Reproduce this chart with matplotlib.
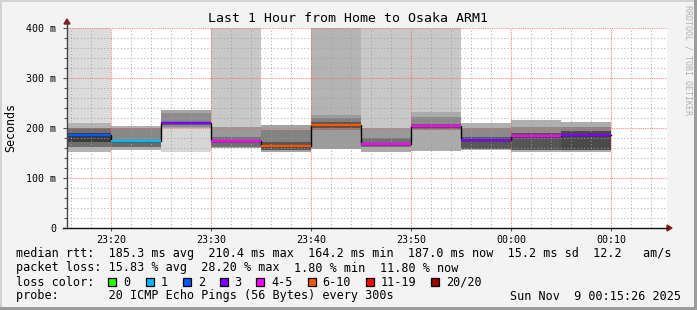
import matplotlib
matplotlib.use("Agg")
import matplotlib.pyplot as plt
from matplotlib.patches import Rectangle, Polygon
from matplotlib.lines import Line2D

# ---------------- data (minutes after 23:00, values in ms) ----------------
bar_start = [15, 20, 25, 30, 35, 40, 45, 50, 55, 60, 65]
median_ms = [186.5, 173.5, 209.5, 174.0, 164.2, 207.0, 167.5, 203.5, 176.0, 183.5, 187.0]
loss_class = ['2', '1', '3', '4-5', '6-10', '6-10', '4-5', '4-5', '3', '4-5', '3']

# loss background (top of smoke up to axis top)
loss_bg_lo = [211, None, None, 203, None, 226, 201, 233, None, None, None]
loss_bg_gray = ['#dcdcdc', None, None, '#c8c8c8', None, '#b4b4b4', '#c8c8c8', '#c8c8c8', None, None, None]

# smoke layers
outer_lo = [153, 156, 153, 161, 153, 159, 153, 155, 156, 153, 153]
outer_hi = [211, 205, 200, 203, 206, 226, 201, 233, 211, 216, 212]
outer_gray = ['#b4b4b4', '#b0b0b0', '#d6d6d6', '#a8a8a8', '#a4a4a4', '#9c9c9c', '#ababab', '#ababab', '#b0b0b0', '#b0b0b0', '#acacac']
upper_lo = [None, None, 200, None, None, None, None, None, None, None, None]
upper_hi = [None, None, 236, None, None, None, None, None, None, None, None]
mid_lo = [163, 163, 203, 183, 156, 196, 163, 196, 159, 156, 156]
mid_hi = [200, 200, 230, 203, 196, 220, 201, 222, 200, 202, 202]
mid_gray = ['#6e6e6e', '#888888', '#8c8c8c', '#999999', '#828282', '#808080', '#999999', '#8a8a8a', '#8a8a8a', '#8c8c8c', '#858585']
core_lo = [173, 163, 206, 163, 156, 200, 163, 198, 159, 156, 156]
core_hi = [190, 176, 214, 183, 172, 212, 180, 208, 182, 190, 194]
core_gray = ['#3c3c3c', '#6a6a6a', '#7a7a7a', '#707070', '#555555', '#555555', '#707070', '#606060', '#585858', '#555555', '#4a4a4a']

loss_colors = {'0': '#26ff00', '1': '#00b8ff', '2': '#0059ff', '3': '#7e00ff',
               '4-5': '#ff00ff', '6-10': '#ff5500', '11-19': '#ff0000', '20/20': '#a10000'}
legend_labels = ['0', '1', '2', '3', '4-5', '6-10', '11-19', '20/20']

y_ticks = [0, 100, 200, 300, 400]
y_tick_labels = ['0', '100 m', '200 m', '300 m', '400 m']
x_ticks = [20, 30, 40, 50, 60, 70]
x_tick_labels = ['23:20', '23:30', '23:40', '23:50', '00:00', '00:10']

title = 'Last 1 Hour from Home to Osaka ARM1'
row_rtt = 'median rtt:  185.3 ms avg  210.4 ms max  164.2 ms min  187.0 ms now  15.2 ms sd  12.2   am/s'
row_loss_head = 'packet loss: 15.83 % avg  28.20 % max'
row_loss_min = '1.80 % min'
row_loss_now = '11.80 % now'
probe_row = 'probe:       20 ICMP Echo Pings (56 Bytes) every 300s'
date_text = 'Sun Nov  9 00:15:26 2025'

# ---------------- figure ----------------
W, H = 697, 310
MONO = 'DejaVu Sans Mono'
fig = plt.figure(figsize=(W / 100, H / 100), dpi=100, facecolor='#f3f3f3')

def fx(px):
    return px / W

def fy(py):
    return 1 - py / H

ax = fig.add_axes([fx(67), fy(228), 600 / W, 200 / H])
ax.set_facecolor('white')
ax.set_xlim(15.6, 75.6)
ax.set_ylim(0, 400)
for s in ax.spines.values():
    s.set_visible(False)

bw = 5
for i, x0 in enumerate(bar_start):
    if loss_bg_lo[i] is not None:
        ax.bar(x0, 400 - loss_bg_lo[i], bottom=loss_bg_lo[i], width=bw, align='edge',
               color=loss_bg_gray[i], linewidth=0, zorder=1)
    ax.bar(x0, outer_hi[i] - outer_lo[i], bottom=outer_lo[i], width=bw, align='edge',
           color=outer_gray[i], linewidth=0, zorder=1)
    if upper_lo[i] is not None:
        ax.bar(x0, upper_hi[i] - upper_lo[i], bottom=upper_lo[i], width=bw, align='edge',
               color='#a6a6a6', linewidth=0, zorder=1)
    ax.bar(x0, mid_hi[i] - mid_lo[i], bottom=mid_lo[i], width=bw, align='edge',
           color=mid_gray[i], linewidth=0, zorder=1.1)
    ax.bar(x0, core_hi[i] - core_lo[i], bottom=core_lo[i], width=bw, align='edge',
           color=core_gray[i], linewidth=0, zorder=1.2)

# grid (drawn over the smoke, like rrdtool)
for m in range(16, 76, 2):
    if m % 10 == 0:
        continue
    ax.axvline(m, color='#a0a0a0', lw=0.8, ls=(0, (1, 2)), alpha=0.8, zorder=3)
for v in range(20, 400, 20):
    if v % 100 == 0:
        continue
    ax.axhline(v, color='#a0a0a0', lw=0.8, ls=(0, (1, 2)), alpha=0.8, zorder=3)
for m in x_ticks:
    ax.axvline(m, color='#ff6060', lw=0.8, ls=(0, (1, 1)), alpha=0.75, zorder=3)
for v in y_ticks[1:]:
    ax.axhline(v, color='#ff6060', lw=0.8, ls=(0, (1, 1)), alpha=0.75, zorder=3)

# median step line + coloured segments
xs = bar_start + [bar_start[-1] + bw]
ys = median_ms + [median_ms[-1]]
ax.step(xs, ys, where='post', color='black', lw=1.0, zorder=4)
for i, x0 in enumerate(bar_start):
    ax.hlines(median_ms[i], x0, x0 + bw, color=loss_colors[loss_class[i]], lw=1.7, zorder=5)

# ticks
ax.set_yticks(y_ticks)
ax.set_yticklabels(y_tick_labels, fontfamily=MONO, fontsize=7.2)
ax.set_xticks(x_ticks)
ax.set_xticklabels(x_tick_labels, fontfamily=MONO, fontsize=7.2)
ax.set_yticks(range(0, 401, 20), minor=True)
ax.set_xticks(range(16, 76, 2), minor=True)
ax.tick_params(axis='y', which='major', length=3, width=0.8, color='#555555', pad=5)
ax.tick_params(axis='y', which='minor', length=2, width=0.8, color='#555555')
ax.tick_params(axis='x', which='major', length=2, width=0.8, color='#555555', pad=3)
ax.tick_params(axis='x', which='minor', length=0)

# axis lines with arrows
fig.add_artist(Line2D([fx(67), fx(67)], [fy(228), fy(22)], color='#444444', lw=1.0))
fig.add_artist(Line2D([fx(63), fx(668)], [fy(228), fy(228)], color='#111111', lw=1.0))
fig.add_artist(Polygon([[fx(64), fy(24)], [fx(70), fy(24)], [fx(67), fy(19)]],
                       closed=True, color='#8b1a1a'))
fig.add_artist(Polygon([[fx(667), fy(225)], [fx(667), fy(231)], [fx(672), fy(228)]],
                       closed=True, color='#8b1a1a'))

# texts
fig.text(fx(348), fy(19), title, ha='center', va='center', fontfamily=MONO, fontsize=9.5)
fig.text(fx(11), fy(128), 'Seconds', ha='center', va='center', rotation=90,
         fontfamily=MONO, fontsize=8.4)
fig.text(fx(688), fy(5), 'RRDTOOL / TOBI OETIKER', ha='center', va='top', rotation=270,
         fontfamily=MONO, fontsize=6.0, color='#b0b0b0')

FS = 8.5
fig.text(fx(16), fy(254), row_rtt, ha='left', va='center', fontfamily=MONO, fontsize=FS)
fig.text(fx(16), fy(268), row_loss_head, ha='left', va='center', fontfamily=MONO, fontsize=FS)
fig.text(fx(294), fy(268), row_loss_min, ha='left', va='center', fontfamily=MONO, fontsize=FS)
fig.text(fx(380), fy(268), row_loss_now, ha='left', va='center', fontfamily=MONO, fontsize=FS)

fig.text(fx(16), fy(282), 'loss color:', ha='left', va='center', fontfamily=MONO, fontsize=FS)
box_x = [108, 146, 183, 219.5, 256, 307.5, 366, 431]
for lab, bx in zip(legend_labels, box_x):
    fig.add_artist(Rectangle((fx(bx), fy(286)), 8 / W, 8 / H, facecolor=loss_colors[lab],
                             edgecolor='black', lw=0.9))
    fig.text(fx(bx + 15), fy(282), lab, ha='left', va='center', fontfamily=MONO, fontsize=FS)

fig.text(fx(16), fy(296), probe_row, ha='left', va='center', fontfamily=MONO, fontsize=FS)
fig.text(fx(681), fy(296), date_text, ha='right', va='center', fontfamily=MONO, fontsize=FS)

# 3d frame
fig.add_artist(Rectangle((0, fy(2)), 1, 2 / H, facecolor='#d2d2d2', lw=0))
fig.add_artist(Rectangle((0, 0), 2 / W, 1, facecolor='#d2d2d2', lw=0))
fig.add_artist(Rectangle((0, 0), 1, 3 / H, facecolor='#9c9c9c', lw=0))
fig.add_artist(Rectangle((fx(694), 0), 3 / W, 1, facecolor='#9c9c9c', lw=0))

fig.savefig('out.png', dpi=100, facecolor=fig.get_facecolor())
